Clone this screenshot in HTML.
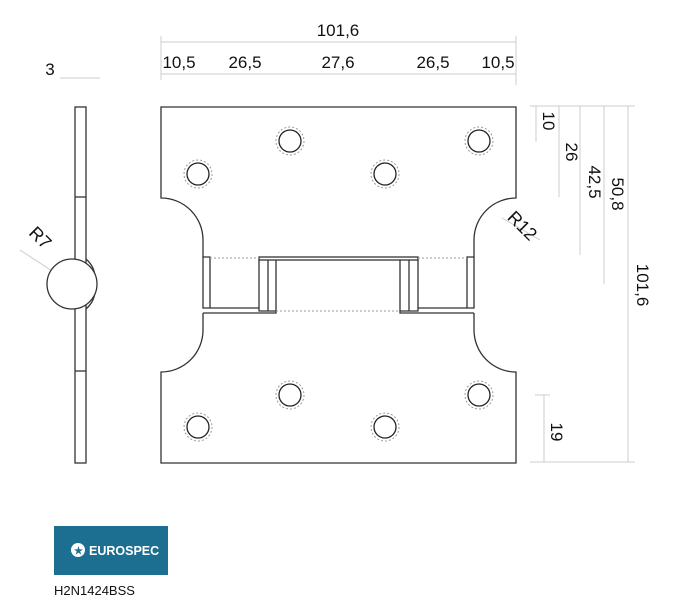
<!DOCTYPE html>
<html><head><style>
body{margin:0;background:#fff;width:690px;height:600px;overflow:hidden}
svg text{font-family:"Liberation Sans",sans-serif;fill:#111}
</style></head><body>
<svg width="690" height="600" viewBox="0 0 690 600">
<g stroke="#ccc" stroke-width="1" fill="none">
<line x1="161" y1="42" x2="516" y2="42"/>
<line x1="161" y1="74" x2="516" y2="74"/>
<line x1="161" y1="36" x2="161" y2="80"/>
<line x1="516" y1="36" x2="516" y2="85"/>
<line x1="530" y1="106" x2="635" y2="106"/>
<line x1="536" y1="106" x2="536" y2="142"/>
<line x1="559" y1="106" x2="559" y2="197"/>
<line x1="580" y1="106" x2="580" y2="255"/>
<line x1="604" y1="106" x2="604" y2="284"/>
<line x1="628" y1="106" x2="628" y2="462"/>
<line x1="544" y1="395" x2="544" y2="462"/>
<line x1="530" y1="462" x2="635" y2="462"/>
<line x1="535" y1="395" x2="550" y2="395"/>
<line x1="60" y1="78" x2="100" y2="78"/>
<line x1="20" y1="250" x2="72" y2="284"/>
<line x1="502" y1="218" x2="540" y2="240"/>
</g>
<g font-size="17" text-anchor="middle">
<text x="338" y="36">101,6</text>
<text x="179" y="68">10,5</text>
<text x="245" y="68">26,5</text>
<text x="338" y="68">27,6</text>
<text x="433" y="68">26,5</text>
<text x="498" y="68">10,5</text>
<text x="50" y="75">3</text>
<text transform="translate(543,121) rotate(90)">10</text>
<text transform="translate(566,152) rotate(90)">26</text>
<text transform="translate(589,182) rotate(90)">42,5</text>
<text transform="translate(612,194) rotate(90)">50,8</text>
<text transform="translate(637,285) rotate(90)">101,6</text>
<text transform="translate(551,432) rotate(90)">19</text>
<text transform="translate(36,242) rotate(45)" font-size="18">R7</text>
<text transform="translate(518,230) rotate(45)" font-size="18">R12</text>
</g>
<g stroke="#333" stroke-width="1.3" fill="none">
<rect x="75" y="107" width="11" height="356" fill="#fff"/>
<line x1="75" y1="197" x2="86" y2="197"/>
<line x1="75" y1="371" x2="86" y2="371"/>
<path d="M86,259 Q94,266 95,276 M86,309 Q94,302 95,292"/>
<circle cx="72" cy="284" r="25" fill="#fff"/>
<path d="M203,257 L203,240 A42,42 0 0 0 161,198 L161,107 L516,107 L516,198 A42,42 0 0 0 474,240 L474,257"/>
<path d="M203,313 L203,330 A42,42 0 0 1 161,372 L161,463 L516,463 L516,372 A42,42 0 0 1 474,330 L474,313"/>
<path d="M203,257 L210,257 L210,308 L203,308 Z"/>
<path d="M467,257 L474,257 L474,308 L467,308 Z"/>
<path d="M203,313 L276,313 L276,311"/>
<path d="M400,311 L400,313 L474,313"/>
<path d="M210,308 L259,308"/>
<path d="M418,308 L467,308"/>
<rect x="259" y="257" width="159" height="3"/>
<path d="M259,260 L259,311 L276,311 L276,260 M268,260 L268,311"/>
<path d="M400,260 L400,311 L418,311 L418,260 M409,260 L409,311"/>
</g>
<g stroke="#999" stroke-width="1" stroke-dasharray="2,2" fill="none">
<line x1="210" y1="258" x2="259" y2="258"/>
<line x1="418" y1="258" x2="467" y2="258"/>
<line x1="276" y1="311" x2="400" y2="311"/>
<circle cx="290" cy="141" r="14"/><circle cx="479" cy="141" r="14"/>
<circle cx="198" cy="174" r="14"/><circle cx="385" cy="174" r="14"/>
<circle cx="290" cy="395" r="14"/><circle cx="479" cy="395" r="14"/>
<circle cx="198" cy="427" r="14"/><circle cx="385" cy="427" r="14"/>
</g>
<g stroke="#222" stroke-width="1.3" fill="none">
<circle cx="290" cy="141" r="11"/><circle cx="479" cy="141" r="11"/>
<circle cx="198" cy="174" r="11"/><circle cx="385" cy="174" r="11"/>
<circle cx="290" cy="395" r="11"/><circle cx="479" cy="395" r="11"/>
<circle cx="198" cy="427" r="11"/><circle cx="385" cy="427" r="11"/>
</g>
<rect x="54" y="526" width="114" height="49" fill="#1d6f91"/>
<circle cx="78" cy="550" r="7" fill="#fff"/>
<text x="74" y="554" font-size="10" style="fill:#1d6f91" font-weight="bold">★</text>
<text x="89" y="555" font-size="12.5" font-weight="bold" style="fill:#fff">EUROSPEC</text>
<text x="54" y="595" font-size="13">H2N1424BSS</text>
</svg>
</body></html>
